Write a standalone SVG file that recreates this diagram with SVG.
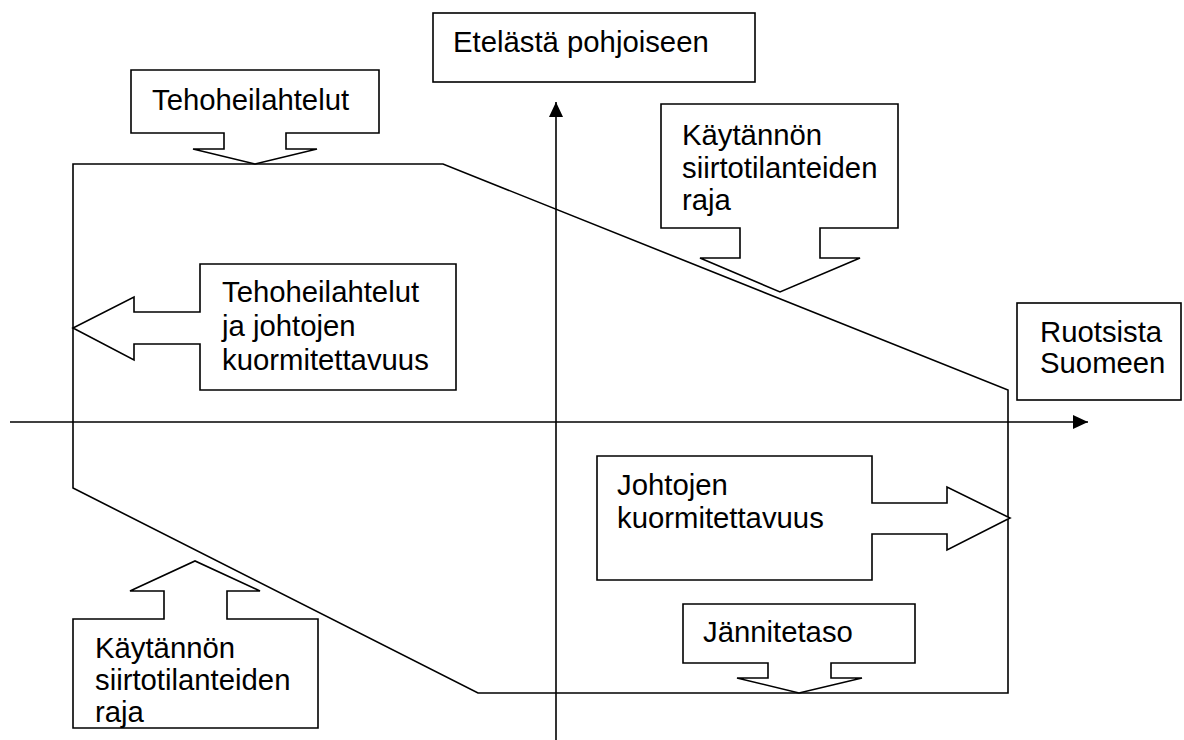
<svg xmlns="http://www.w3.org/2000/svg" width="1184" height="740" viewBox="0 0 1184 740">
<style>
.ln{fill:none;stroke:#000;stroke-width:1.6}
.co{fill:#fff;stroke:#000;stroke-width:1.6;stroke-linejoin:miter}
.t{font-family:"Liberation Sans",Arial,sans-serif;font-size:29.3px;fill:#000}
</style>
<defs>
<marker id="ah" viewBox="0 0 15 14" refX="15" refY="7" markerWidth="15" markerHeight="14" markerUnits="userSpaceOnUse" orient="auto">
<path d="M0,0 L15,7 L0,14 Z" fill="#000"/>
</marker>
</defs>
<rect width="1184" height="740" fill="#fff"/>
<g id="connectors">
<line class="ln" x1="10" y1="422" x2="1088" y2="422" marker-end="url(#ah)"/>
<line class="ln" x1="556" y1="740" x2="556" y2="102" marker-end="url(#ah)"/>
<path class="ln" d="M73,164 L443,164 L1008,390 L1008,693 L478,693 L73,488 Z"/>
</g>
<g id="etelasta">
<rect class="co" x="433" y="13" width="322" height="69"/>
<text class="t" x="453" y="52">Etelästä pohjoiseen</text>
</g>
<g id="ruotsista">
<rect class="co" x="1017" y="303" width="164" height="97"/>
<text class="t" x="1040" y="342">Ruotsista</text>
<text class="t" x="1040" y="373">Suomeen</text>
</g>
<g id="tehoheilahtelut">
<path class="co" d="M131,70 L379,70 L379,133 L286,133 L286,149 L317,149 L255,164 L193,149 L224,149 L224,133 L131,133 Z"/>
<text class="t" x="152" y="110">Tehoheilahtelut</text>
</g>
<g id="kaytannon-yla">
<path class="co" d="M661,104 L898,104 L898,228 L820,228 L820,258 L860,258 L780,292 L700,258 L740,258 L740,228 L661,228 Z"/>
<text class="t" x="682" y="145">Käytännön</text>
<text class="t" x="682" y="177.5">siirtotilanteiden</text>
<text class="t" x="682" y="210">raja</text>
</g>
<g id="tehoheilahtelut-johtojen">
<path class="co" d="M200,264 L456,264 L456,390 L200,390 L200,344 L134,344 L134,360 L73,328 L134,297 L134,312 L200,312 Z"/>
<text class="t" x="222" y="302">Tehoheilahtelut</text>
<text class="t" x="222" y="336">ja johtojen</text>
<text class="t" x="222" y="370">kuormitettavuus</text>
</g>
<g id="johtojen">
<path class="co" d="M597,456 L872,456 L872,503 L947,503 L947,487 L1010,518 L947,550 L947,534 L872,534 L872,580 L597,580 Z"/>
<text class="t" x="617" y="495">Johtojen</text>
<text class="t" x="617" y="528">kuormitettavuus</text>
</g>
<g id="jannitetaso">
<path class="co" d="M683,604 L915,604 L915,663 L831,663 L831,678 L862,678 L799,693 L737,678 L768,678 L768,663 L683,663 Z"/>
<text class="t" x="703" y="642">Jännitetaso</text>
</g>
<g id="kaytannon-ala">
<path class="co" d="M73,619 L164,619 L164,591 L130,591 L195,561 L260,591 L227,591 L227,619 L318,619 L318,728 L73,728 Z"/>
<text class="t" x="95" y="658">Käytännön</text>
<text class="t" x="95" y="690">siirtotilanteiden</text>
<text class="t" x="95" y="722">raja</text>
</g>
</svg>
